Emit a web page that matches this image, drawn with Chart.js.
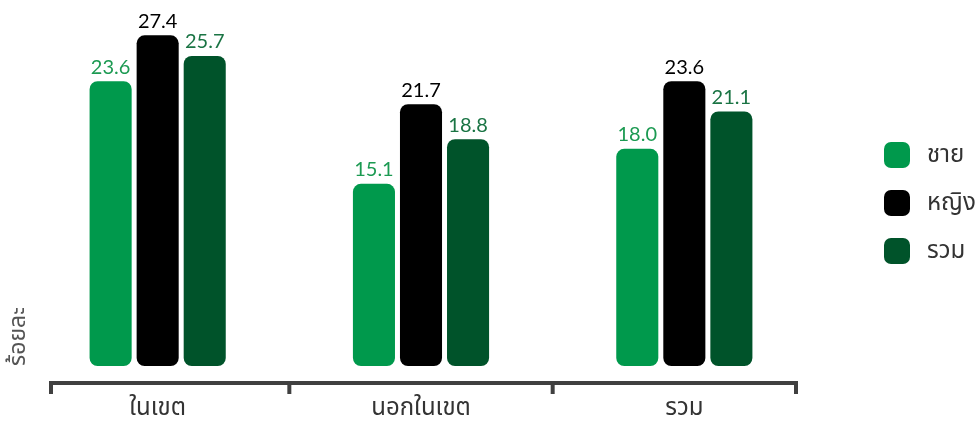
<!DOCTYPE html>
<html lang="th">
<head>
<meta charset="utf-8">
<script src="https://cdn.jsdelivr.net/npm/chart.js@4.4.1/dist/chart.umd.min.js"></script>
<style>
    html, body { margin: 0; padding: 0; background: #fff; }
    #wrap { position: relative; width: 976px; height: 425px; }
    #legenda {
        position: absolute; left: 884px; top: 141px;
        font-family: Tahoma, "Noto Sans Thai", "Noto Sans", sans-serif;
        font-size: 24px; color: #333;
    }
    #legenda .item { display: flex; align-items: center; height: 28px; margin-bottom: 20px; }
    #legenda .caixa { width: 26px; height: 26px; border-radius: 7px; margin-right: 17px; }
</style>
</head>
<body>
<div id="wrap">
    <canvas id="graficoBarras" width="976" height="425"></canvas>
    <div id="legenda"></div>
</div>
<script>
// ---- dados do gráfico (ร้อยละ)
const categorias = ['ในเขต', 'นอกในเขต', 'รวม'];
const valoresChai = [23.6, 15.1, 18.0];
const valoresYing = [27.4, 21.7, 23.6];
const valoresRuam = [25.7, 18.8, 21.1];
const nomesSeries = ['ชาย', 'หญิง', 'รวม'];

const coresBarras = ['#00994c', '#000000', '#00532a'];
const coresRotulos = ['#1c9a52', '#000000', '#1a7444'];
const fonteThai = 'Tahoma, "Noto Sans Thai", "Noto Sans", sans-serif';
const fonteNumeros = 'Lato, "Open Sans", sans-serif';

// desenha o valor em cima de cada barra
const rotulosValores = {
    id: 'rotulosValores',
    afterDatasetsDraw(chart) {
        const ctx = chart.ctx;
        ctx.save();
        ctx.font = '20px ' + fonteNumeros;
        ctx.textAlign = 'center';
        ctx.textBaseline = 'bottom';
        chart.data.datasets.forEach((ds, i) => {
            chart.getDatasetMeta(i).data.forEach((barra, j) => {
                ctx.fillStyle = coresRotulos[i];
                ctx.fillText(ds.data[j].toFixed(1), barra.x, barra.y - 4);
            });
        });
        ctx.restore();
    }
};

// linha do eixo x com marcas nas divisões das categorias
const eixoColchete = {
    id: 'eixoColchete',
    afterDraw(chart) {
        const x = chart.scales.x;
        const ctx = chart.ctx;
        const y = chart.chartArea.bottom + 17;
        const divisoes = [];
        for (let i = 0; i <= categorias.length; i++) divisoes.push(x.getPixelForValue(i - 0.5));
        divisoes[0] += 25;
        divisoes[divisoes.length - 1] -= 20;
        ctx.save();
        ctx.strokeStyle = '#404040';
        ctx.lineWidth = 4;
        ctx.beginPath();
        ctx.moveTo(divisoes[0] - 2, y);
        ctx.lineTo(divisoes[divisoes.length - 1] + 2, y);
        ctx.stroke();
        divisoes.forEach(d => {
            ctx.beginPath();
            ctx.moveTo(d, y);
            ctx.lineTo(d, y + 11);
            ctx.stroke();
        });
        ctx.restore();
    }
};

function serie(label, data, i) {
    return {
        label: label,
        data: data,
        backgroundColor: coresBarras[i],
        borderRadius: 8,
        borderSkipped: false,
        barPercentage: 0.894,
        categoryPercentage: 0.536
    };
}

const ctx = document.getElementById('graficoBarras').getContext('2d');
let graficoBarras = new Chart(ctx, {
    type: 'bar',
    data: {
        labels: categorias,
        datasets: [
            serie(nomesSeries[0], valoresChai, 0),
            serie(nomesSeries[1], valoresYing, 1),
            serie(nomesSeries[2], valoresRuam, 2)
        ]
    },
    options: {
        responsive: false,
        animation: false,
        layout: { padding: { top: 4, right: 160, left: 0, bottom: 0 } },
        plugins: {
            legend: { display: false },
            tooltip: { enabled: false }
        },
        scales: {
            x: {
                grid: { display: false, drawTicks: false },
                border: { display: false },
                ticks: {
                    padding: 30,
                    color: '#333',
                    font: { family: fonteThai, size: 24 }
                },
                afterFit(scale) { scale.height = 59; }
            },
            y: {
                min: 0,
                max: 30,
                grid: { display: false, drawTicks: false },
                border: { display: false },
                ticks: { display: false },
                title: {
                    display: true,
                    text: 'ร้อยละ',
                    align: 'start',
                    color: '#555',
                    padding: { top: 7, bottom: 0 },
                    font: { family: fonteThai, size: 23 }
                },
                afterFit(scale) { scale.width = 26; }
            }
        }
    },
    plugins: [rotulosValores, eixoColchete]
});

// legenda feita em html a partir dos datasets
const legenda = document.getElementById('legenda');
graficoBarras.data.datasets.forEach(ds => {
    const item = document.createElement('div');
    item.className = 'item';
    item.innerHTML = '<span class="caixa" style="background:' + ds.backgroundColor + '"></span><span>' + ds.label + '</span>';
    legenda.appendChild(item);
});
</script>
</body>
</html>
